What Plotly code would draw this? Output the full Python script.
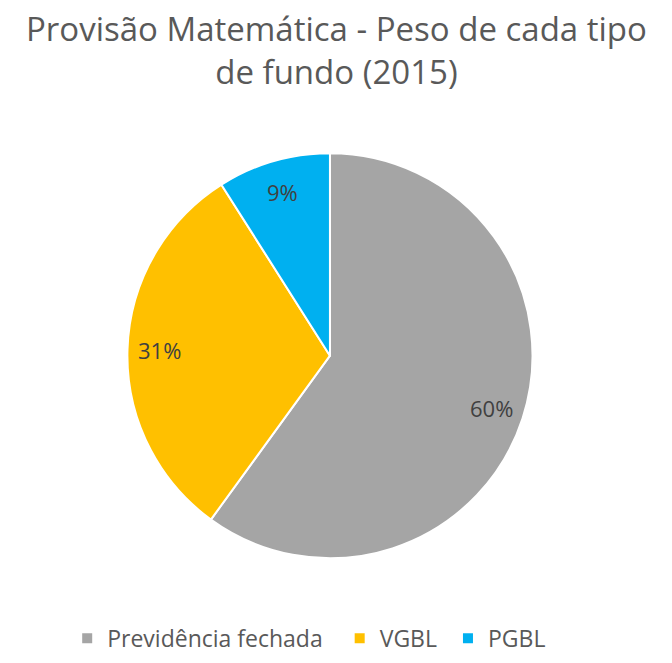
import math
import plotly.graph_objects as go

# dados do gráfico
categorias = ["Previdência fechada", "VGBL", "PGBL"]
pesos = [60, 31, 9]
cores = ["#A5A5A5", "#FFC000", "#00B0F0"]

W, H = 672, 663
dom_x = [0.189, 0.793]
dom_y = [0.158, 0.769]

# espaços extras no fim dos nomes para afastar os itens da legenda
nbsp = "\u00a0"
nomes_legenda = [categorias[0] + nbsp * 2, categorias[1] + nbsp, categorias[2]]

fig = go.Figure(go.Pie(
    labels=nomes_legenda,
    values=pesos,
    sort=False,
    direction="clockwise",
    rotation=0,
    marker=dict(colors=cores, line=dict(color="white", width=2)),
    textinfo="none",
    domain=dict(x=dom_x, y=dom_y),
    hoverinfo="label+percent",
))

# rótulos de percentual posicionados a partir dos ângulos das fatias
cx = (dom_x[0] + dom_x[1]) / 2 * W
cy = (dom_y[0] + dom_y[1]) / 2 * H
raio = min((dom_x[1] - dom_x[0]) * W, (dom_y[1] - dom_y[0]) * H) / 2
total = sum(pesos)
acum = 0
for v in pesos:
    meio = (acum + v / 2) / total * 2 * math.pi
    acum += v
    px = cx + 0.84 * raio * math.sin(meio)
    py = cy + 0.84 * raio * math.cos(meio)
    fig.add_annotation(
        x=px / W, y=py / H, xref="paper", yref="paper",
        xanchor="center", yanchor="middle",
        text=f"{round(v / total * 100)}%", showarrow=False,
        font=dict(family="Open Sans", size=22, color="#404040"),
    )

# título
fig.add_annotation(
    x=0.5, y=1, xref="paper", yref="paper", xanchor="center", yanchor="top",
    yshift=-4,
    text="Provisão Matemática - Peso de cada tipo<br>de fundo (2015)",
    showarrow=False,
    font=dict(family="Open Sans", size=33, color="#595959"),
)

fig.update_layout(
    width=W, height=H,
    margin=dict(l=0, r=0, t=0, b=0, autoexpand=False),
    paper_bgcolor="white",
    legend=dict(
        orientation="h", x=0.1, xanchor="left", y=0.005, yanchor="bottom",
        font=dict(family="Open Sans", size=23, color="#595959"),
        itemsizing="constant",
    ),
    showlegend=True,
)

# tira a margem padrão do <body> para a figura ocupar a janela toda
fig.write_html("out.html", config={"displayModeBar": False},
               post_script="document.body.style.margin='0';")
